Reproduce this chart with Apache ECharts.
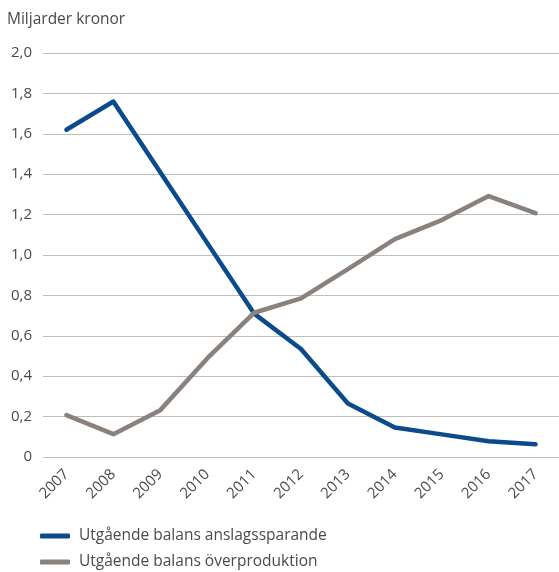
<!DOCTYPE html>
<html><head><meta charset="utf-8">
<script src="https://cdn.jsdelivr.net/npm/echarts@6/dist/echarts.min.js"></script>
<style>html,body{margin:0;padding:0;background:#fff}#c{width:559px;height:572px}</style>
</head><body><div id="c"></div>
<script>
const years = ['2007','2008','2009','2010','2011','2012','2013','2014','2015','2016','2017'];
const anslagssparande = [1.62, 1.76, 1.41, 1.06, 0.71, 0.535, 0.265, 0.146, 0.112, 0.078, 0.063];
const overproduktion = [0.207, 0.113, 0.232, 0.488, 0.714, 0.785, 0.93, 1.079, 1.173, 1.292, 1.207];
const seriesNames = ['Utgående balans anslagssparande', 'Utgående balans överproduktion'];

const font = 'Open Sans';
const txt = '#4a4a4a';
const legendBase = {
  orient: 'horizontal', left: 40, padding: 0,
  itemWidth: 30, itemHeight: 5, icon: 'roundRect',
  textStyle: {fontFamily: font, fontSize: 15.5, color: txt, padding: [0, 0, 0, 4]}
};
const chart = echarts.init(document.getElementById('c'), null, {renderer: 'canvas'});
chart.setOption({
  animation: false,
  textStyle: {fontFamily: font},
  title: {
    text: 'Miljarder kronor', left: 7, top: 12, padding: 0,
    textStyle: {fontFamily: font, fontSize: 15.5, fontWeight: 'normal', color: txt}
  },
  grid: {left: 43, right: -8, top: 53, bottom: 115},
  legend: [
    Object.assign({}, legendBase, {top: 528, data: [seriesNames[0]]}),
    Object.assign({}, legendBase, {top: 554, data: [seriesNames[1]]})
  ],
  xAxis: {
    type: 'category', data: years, boundaryGap: true,
    axisLine: {show: false}, axisTick: {show: false},
    axisLabel: {rotate: 45, margin: 15, fontSize: 15, color: txt, fontFamily: font}
  },
  yAxis: {
    type: 'value', min: 0, max: 2.0, interval: 0.2,
    axisLine: {show: false}, axisTick: {show: false},
    splitLine: {lineStyle: {color: '#bdbdbd', width: 1}},
    axisLabel: {
      fontSize: 15, color: txt, fontFamily: font, margin: 11,
      formatter: v => v === 0 ? '0' : v.toFixed(1).replace('.', ',')
    }
  },
  series: [
    {name: seriesNames[0], type: 'line', data: anslagssparande, symbol: 'none',
     lineStyle: {color: '#0b4a8b', width: 4.5, cap: 'round', join: 'round'}, itemStyle: {color: '#0b4a8b'}},
    {name: seriesNames[1], type: 'line', data: overproduktion, symbol: 'none',
     lineStyle: {color: '#8b817c', width: 4.5, cap: 'round', join: 'round'}, itemStyle: {color: '#8b817c'}}
  ]
});
</script></body></html>
